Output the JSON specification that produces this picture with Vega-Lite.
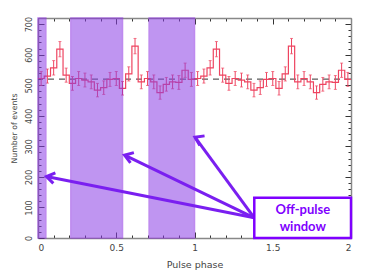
{
  "$schema": "https://vega.github.io/schema/vega-lite/v6.json",
  "width": 313,
  "height": 220,
  "autosize": "none",
  "padding": {"left": 38, "top": 18, "right": 23, "bottom": 42},
  "background": "white",
  "config": {"view": {"stroke": null}},
  "datasets": {
    "hist": [
      {"x0": 0.00, "xc": 0.02, "n": 522, "e": 22.8},
      {"x0": 0.04, "xc": 0.06, "n": 530, "e": 23.0},
      {"x0": 0.08, "xc": 0.10, "n": 557, "e": 23.6},
      {"x0": 0.12, "xc": 0.14, "n": 618, "e": 24.9},
      {"x0": 0.16, "xc": 0.18, "n": 533, "e": 23.1},
      {"x0": 0.20, "xc": 0.22, "n": 506, "e": 22.5},
      {"x0": 0.24, "xc": 0.26, "n": 522, "e": 22.8},
      {"x0": 0.28, "xc": 0.30, "n": 517, "e": 22.7},
      {"x0": 0.32, "xc": 0.34, "n": 511, "e": 22.6},
      {"x0": 0.36, "xc": 0.38, "n": 484, "e": 22.0},
      {"x0": 0.40, "xc": 0.42, "n": 492, "e": 22.2},
      {"x0": 0.44, "xc": 0.46, "n": 519, "e": 22.8},
      {"x0": 0.48, "xc": 0.50, "n": 522, "e": 22.8},
      {"x0": 0.52, "xc": 0.54, "n": 490, "e": 22.1},
      {"x0": 0.56, "xc": 0.58, "n": 537, "e": 23.2},
      {"x0": 0.60, "xc": 0.62, "n": 628, "e": 25.1},
      {"x0": 0.64, "xc": 0.66, "n": 511, "e": 22.6},
      {"x0": 0.68, "xc": 0.70, "n": 522, "e": 22.8},
      {"x0": 0.72, "xc": 0.74, "n": 511, "e": 22.6},
      {"x0": 0.76, "xc": 0.78, "n": 476, "e": 21.8},
      {"x0": 0.80, "xc": 0.82, "n": 503, "e": 22.4},
      {"x0": 0.84, "xc": 0.86, "n": 511, "e": 22.6},
      {"x0": 0.88, "xc": 0.90, "n": 509, "e": 22.6},
      {"x0": 0.92, "xc": 0.94, "n": 549, "e": 23.4},
      {"x0": 0.96, "xc": 0.98, "n": 519, "e": 22.8},
      {"x0": 1.00, "xc": 1.02, "n": 522, "e": 22.8},
      {"x0": 1.04, "xc": 1.06, "n": 530, "e": 23.0},
      {"x0": 1.08, "xc": 1.10, "n": 557, "e": 23.6},
      {"x0": 1.12, "xc": 1.14, "n": 618, "e": 24.9},
      {"x0": 1.16, "xc": 1.18, "n": 533, "e": 23.1},
      {"x0": 1.20, "xc": 1.22, "n": 506, "e": 22.5},
      {"x0": 1.24, "xc": 1.26, "n": 522, "e": 22.8},
      {"x0": 1.28, "xc": 1.30, "n": 517, "e": 22.7},
      {"x0": 1.32, "xc": 1.34, "n": 511, "e": 22.6},
      {"x0": 1.36, "xc": 1.38, "n": 484, "e": 22.0},
      {"x0": 1.40, "xc": 1.42, "n": 492, "e": 22.2},
      {"x0": 1.44, "xc": 1.46, "n": 519, "e": 22.8},
      {"x0": 1.48, "xc": 1.50, "n": 522, "e": 22.8},
      {"x0": 1.52, "xc": 1.54, "n": 490, "e": 22.1},
      {"x0": 1.56, "xc": 1.58, "n": 537, "e": 23.2},
      {"x0": 1.60, "xc": 1.62, "n": 628, "e": 25.1},
      {"x0": 1.64, "xc": 1.66, "n": 511, "e": 22.6},
      {"x0": 1.68, "xc": 1.70, "n": 522, "e": 22.8},
      {"x0": 1.72, "xc": 1.74, "n": 511, "e": 22.6},
      {"x0": 1.76, "xc": 1.78, "n": 476, "e": 21.8},
      {"x0": 1.80, "xc": 1.82, "n": 503, "e": 22.4},
      {"x0": 1.84, "xc": 1.86, "n": 511, "e": 22.6},
      {"x0": 1.88, "xc": 1.90, "n": 509, "e": 22.6},
      {"x0": 1.92, "xc": 1.94, "n": 549, "e": 23.4},
      {"x0": 1.96, "xc": 1.98, "n": 519, "e": 22.8},
      {"x0": 2.00, "n": 519}
    ],
    "windows": [
      {"start": 0.0, "end": 0.05},
      {"start": 0.21, "end": 0.54},
      {"start": 0.71, "end": 1.0}
    ],
    "arrows": [
      {"id": 1, "x": 1.382, "y": 66, "tx": 0.054, "ty": 201},
      {"id": 2, "x": 1.382, "y": 66, "tx": 0.553, "ty": 271},
      {"id": 3, "x": 1.382, "y": 66, "tx": 1.003, "ty": 330}
    ],
    "box": [{"x": 1.382, "x2": 2.0, "y": 0, "y2": 132}],
    "labels": [
      {"x": 1.692, "y": 92, "t": "Off-pulse"},
      {"x": 1.692, "y": 37, "t": "window"}
    ]
  },
  "resolve": {"axis": {"x": "independent", "y": "independent"}},
  "layer": [
    {
      "data": {"values": [{"mean": 520}]},
      "mark": {"type": "rule", "color": "#333333", "strokeWidth": 1, "strokeDash": [6, 5]},
      "encoding": {
        "y": {"field": "mean", "type": "quantitative", "scale": {"domain": [0, 720], "nice": false, "zero": true}, "axis": null}
      }
    },
    {
      "data": {"name": "hist"},
      "mark": {"type": "line", "interpolate": "step-after", "color": "#ee4460", "strokeWidth": 1.2},
      "encoding": {
        "x": {"field": "x0", "type": "quantitative", "scale": {"domain": [0, 2], "nice": false, "zero": false},
          "axis": {"orient": "top", "labels": false, "title": null,
            "values": [0,0.1,0.2,0.3,0.4,0.5,0.6,0.7,0.8,0.9,1,1.1,1.2,1.3,1.4,1.5,1.6,1.7,1.8,1.9,2],
            "tickSize": {"condition": {"test": "round(datum.value*10)%5==0", "value": -6}, "value": -3},
            "tickColor": "#333", "domainColor": "#888", "domainWidth": 1.5, "grid": false}},
        "y": {"field": "n", "type": "quantitative", "scale": {"domain": [0, 720], "nice": false, "zero": true},
          "axis": {"orient": "right", "labels": false, "title": null,
            "values": [0,20,40,60,80,100,120,140,160,180,200,220,240,260,280,300,320,340,360,380,400,420,440,460,480,500,520,540,560,580,600,620,640,660,680,700],
            "tickSize": {"condition": {"test": "datum.value%100==0", "value": -6}, "value": -3},
            "tickColor": "#333", "domainColor": "#888", "domainWidth": 1.5, "grid": false}}
      }
    },
    {
      "data": {"name": "hist"},
      "transform": [{"filter": "isValid(datum.xc)"}],
      "mark": {"type": "errorbar", "color": "#ee4460", "thickness": 1, "ticks": {"size": 3, "color": "#ee4460"}},
      "encoding": {
        "x": {"field": "xc", "type": "quantitative", "scale": {"domain": [0, 2], "nice": false, "zero": false},
          "axis": {"orient": "bottom", "title": "Pulse phase",
            "values": [0,0.1,0.2,0.3,0.4,0.5,0.6,0.7,0.8,0.9,1,1.1,1.2,1.3,1.4,1.5,1.6,1.7,1.8,1.9,2],
            "labelExpr": "round(datum.value*10)%5==0 ? datum.value + '' : ''",
            "tickSize": {"condition": {"test": "round(datum.value*10)%5==0", "value": -6}, "value": -3},
            "tickColor": "#333", "domainColor": "#888", "domainWidth": 1.5, "grid": false,
            "labelFont": "DejaVu Sans", "labelFontSize": 9, "labelColor": "#444", "labelPadding": 11,
            "titleFont": "DejaVu Sans", "titleFontSize": 9.5, "titleFontWeight": "normal", "titleColor": "#444", "titlePadding": 7}},
        "y": {"field": "n", "type": "quantitative", "scale": {"domain": [0, 720], "nice": false, "zero": true},
          "axis": {"orient": "left", "title": "Number of events",
            "values": [0,20,40,60,80,100,120,140,160,180,200,220,240,260,280,300,320,340,360,380,400,420,440,460,480,500,520,540,560,580,600,620,640,660,680,700],
            "labelExpr": "datum.value%100==0 ? datum.label : ''",
            "tickSize": {"condition": {"test": "datum.value%100==0", "value": -6}, "value": -3},
            "tickColor": "#333", "domainColor": "#888", "domainWidth": 1.5, "grid": false,
            "labelAngle": -90, "labelAlign": "center", "labelBaseline": "bottom",
            "labelFont": "DejaVu Sans", "labelFontSize": 8, "labelColor": "#444", "labelPadding": 10.5,
            "titleFont": "DejaVu Sans", "titleFontSize": 7.8, "titleFontWeight": "normal", "titleColor": "#444",
            "titleX": -24, "titleY": 110, "titleAngle": -90, "titleAlign": "center", "titleBaseline": "middle"}},
        "yError": {"field": "e"}
      }
    },
    {
      "data": {"name": "windows"},
      "mark": {"type": "rect", "color": "#8b3fe6", "opacity": 0.55, "stroke": "#8a2be2", "strokeWidth": 1.5, "strokeOpacity": 1},
      "encoding": {
        "x": {"field": "start", "type": "quantitative", "axis": null},
        "x2": {"field": "end"}
      }
    },
    {
      "data": {"name": "arrows"},
      "mark": {"type": "rule", "color": "#7a1ff0", "strokeWidth": 3},
      "encoding": {
        "x": {"field": "x", "type": "quantitative", "axis": null},
        "y": {"field": "y", "type": "quantitative", "axis": null},
        "x2": {"field": "tx"},
        "y2": {"field": "ty"}
      }
    },
    {
      "data": {"name": "arrows"},
      "mark": {"type": "point", "shape": "M -0.8 1.2 L 0 0 L 0.8 1.2", "filled": false, "color": "#7a1ff0", "strokeWidth": 3, "size": 180, "opacity": 1, "strokeJoin": "miter"},
      "encoding": {
        "x": {"field": "tx", "type": "quantitative", "axis": null},
        "y": {"field": "ty", "type": "quantitative", "axis": null},
        "angle": {"field": "id", "type": "ordinal", "scale": {"domain": [1, 2, 3], "range": [281, 296, 324]}, "legend": null}
      }
    },
    {
      "data": {"name": "box"},
      "mark": {"type": "rect", "fill": "white", "stroke": "#7f00ff", "strokeWidth": 2.5},
      "encoding": {
        "x": {"field": "x", "type": "quantitative", "axis": null},
        "x2": {"field": "x2"},
        "y": {"field": "y", "type": "quantitative", "axis": null},
        "y2": {"field": "y2"}
      }
    },
    {
      "data": {"name": "labels"},
      "mark": {"type": "text", "font": "Lato", "fontSize": 13, "fontWeight": "bold", "color": "#7f00ff", "align": "center", "baseline": "middle"},
      "encoding": {
        "x": {"field": "x", "type": "quantitative", "axis": null},
        "y": {"field": "y", "type": "quantitative", "axis": null},
        "text": {"field": "t"}
      }
    }
  ]
}
